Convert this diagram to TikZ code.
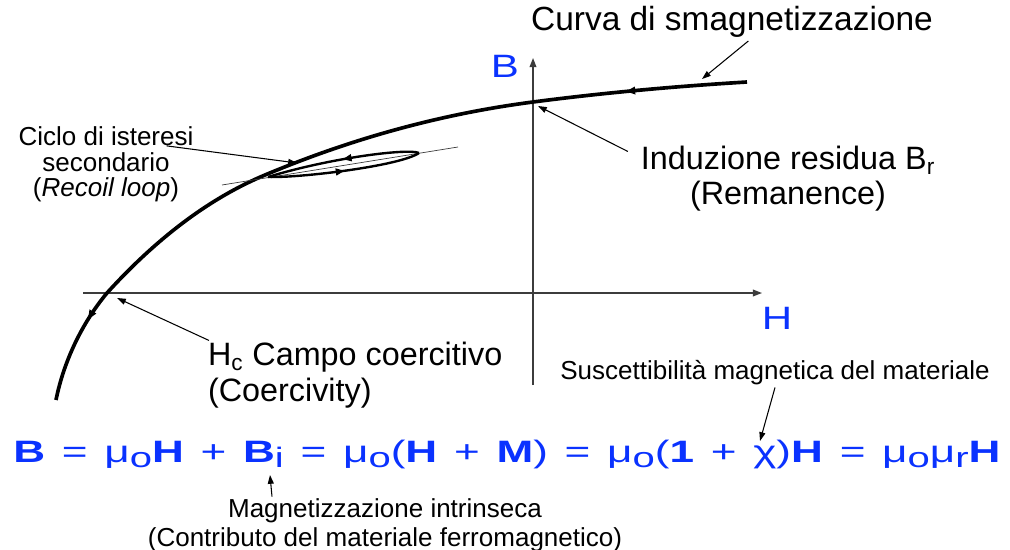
\documentclass[tikz,border=0pt]{standalone}
\usepackage{fontspec}
\setmainfont{Liberation Sans}
\usepackage{graphicx}
\usetikzlibrary{arrows.meta,decorations.markings,calc}
\definecolor{eqblue}{RGB}{10,50,255}
\definecolor{axisgray}{RGB}{60,60,60}
\newcommand\eqgap{\hspace{0.38em}}
\newcommand\eqsub[1]{\raisebox{-4pt}{\mdseries\fontsize{20}{20}\selectfont #1}}
\newcommand\eqsym[1]{{\mdseries #1}}
\tikzset{
  curve/.style={line width=2.6pt, black},
  recoil/.style={line width=1.7pt, black},
  axis/.style={line width=1pt, axisgray, -{Triangle[length=2.3mm,width=1.7mm]}},
  callout/.style={line width=0.75pt, -{Triangle[length=2.2mm,width=1.5mm]}},
  biglabel/.style={font=\fontsize{23}{25.6}\selectfont, inner sep=2pt},
  smalllabel/.style={font=\fontsize{18.5}{18.2}\selectfont, inner sep=2pt},
  axislabel/.style={font=\fontsize{23}{23}\selectfont, text=eqblue, inner sep=0pt},
  flowone/.style={postaction={decorate}, decoration={markings,
      mark=at position #1 with {\arrow{Triangle[length=2.2mm,width=1.7mm]}}}},
  flowtwo/.style 2 args={postaction={decorate}, decoration={markings,
      mark=at position #1 with {\arrow{Triangle[length=2.4mm,width=1.8mm]}},
      mark=at position #2 with {\arrow{Triangle[length=2.4mm,width=1.8mm]}}}},
}
\begin{document}
\begin{tikzpicture}[x=0.025cm, y=-0.025cm]
\useasboundingbox (0,0) rectangle (1010,550);

% axes
\coordinate (Bbot) at (533,385);
\coordinate (Btop) at (533,58);
\coordinate (Hleft) at (83,293);
\coordinate (Hright) at (762,293);
\draw[axis] (Hleft) -- (Hright);
\draw[axis] (Bbot) -- (Btop);
\node[axislabel] (labB) at (505,66) {\scalebox{1.3}[1]{B}};
\node[axislabel] (labH) at (777,318) {\scalebox{1.3}[1]{H}};

% demagnetization curve
\draw[curve, flowtwo={0.15}{0.893}] (747,82)
  .. controls (675.7,86.3) and (604.3,92.7) .. (533,102)
  .. controls (443.7,113.6) and (354.3,137.5) .. (265,175)
  .. controls (212.3,197.1) and (159.7,235) .. (107,293)
  .. controls (82,323) and (63.7,361.5) .. (56,400);

% recoil loop
\draw[line width=0.5pt, axisgray] (222,185) -- (458,147);
\draw[recoil, flowone=0.5] (268,177) .. controls (300,178) and (400,166) .. (419,153);
\draw[recoil, flowone=0.5] (419,153) .. controls (408,148) and (330,158) .. (268,177);

% labels
\node[biglabel, font=\fontsize{23.8}{25.6}\selectfont, anchor=base west] (curva) at (528,31)
  {Curva di smagnetizzazione};
\node[biglabel, anchor=base, align=center] (induz) at (788,205)
  {Induzione residua B\textsubscript{r}\\(Remanence)};
\node[biglabel, anchor=base west, align=left] (hc) at (205,401)
  {H\textsubscript{c} Campo coercitivo\\(Coercivity)};
\node[smalllabel, anchor=base, align=center] (ciclo) at (106,197)
  {Ciclo di isteresi\\secondario\\(\textit{Recoil loop})};
\node[smalllabel, anchor=base] (susc) at (775,379)
  {Suscettibilità magnetica del materiale};
\node[smalllabel, anchor=base, align=center] (magn) at (385,546)
  {Magnetizzazione intrinseca\\[2pt](Contributo del materiale ferromagnetico)};

% equation
\node[anchor=base west, inner sep=0pt, text=eqblue] (eq) at (13,462)
  {\resizebox{24.675cm}{\height}{\fontsize{22}{22}\selectfont\bfseries
   B\eqgap\eqsym{=}\eqgap\eqsym{μ}\eqsub{o}H\eqgap\eqsym{+}\eqgap B\eqsub{i}\eqgap
   \eqsym{=}\eqgap\eqsym{μ}\eqsub{o}\eqsym{(}H\eqgap\eqsym{+}\eqgap M\eqsym{)}\eqgap
   \eqsym{=}\eqgap\eqsym{μ}\eqsub{o}\eqsym{(}1\eqgap\eqsym{+}\eqgap\eqsym{χ}\eqsym{)}H\eqgap
   \eqsym{=}\eqgap\eqsym{μ}\eqsub{o}\eqsym{μ}\eqsub{r}H}};

% callouts
\coordinate (curvaTip) at (702,79);
\coordinate (brTip) at (538,106);
\coordinate (hcTip) at (117,298);
\coordinate (cicloTip) at (297,163);
\coordinate (chiTip) at (760,441);
\coordinate (biTip) at (270,475);
\draw[callout] ($(curva.south west)!0.54!(curva.south east)$) -- (curvaTip);
\draw[callout] ($(induz.north west)+(-10,9)$) -- (brTip);
\draw[callout] ($(hc.north west)+(4,2)$) -- (hcTip);
\draw[callout] ($(ciclo.north east)+(-30,22)$) -- (cicloTip);
\draw[callout] (susc.south) -- (chiTip);
\draw[callout] ($(magn.north)+(-113,1)$) -- (biTip);
\end{tikzpicture}
\end{document}
